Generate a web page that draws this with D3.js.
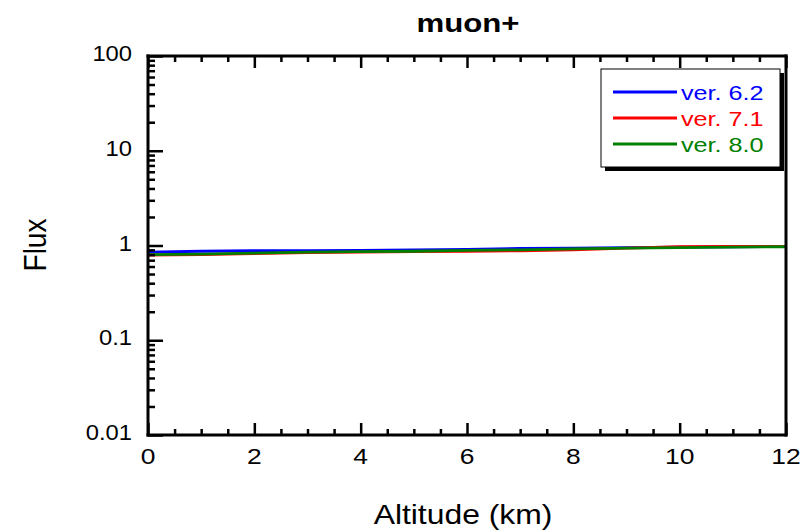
<!DOCTYPE html>
<html>
<head>
<meta charset="utf-8">
<script src="https://cdn.jsdelivr.net/npm/d3@7"></script>
<style>
  html, body { margin: 0; padding: 0; background: #fff; }
  svg text { font-family: "Liberation Sans", Arial, sans-serif; }
</style>
</head>
<body>
<svg id="chart" width="809" height="530"></svg>
<script>
// Altitude grid (km) and flux per simulation version
const altitude = [0, 1, 2, 3, 4, 5, 6, 7, 8, 9, 10, 11, 12];
const fluxV62 = [0.85, 0.87, 0.88, 0.88, 0.89, 0.90, 0.91, 0.93, 0.94, 0.95, 0.96, 0.97, 0.98];
const fluxV71 = [0.79, 0.80, 0.82, 0.84, 0.85, 0.86, 0.87, 0.88, 0.90, 0.94, 0.97, 0.98, 0.98];
const fluxV80 = [0.80, 0.81, 0.83, 0.85, 0.86, 0.87, 0.89, 0.90, 0.92, 0.94, 0.95, 0.96, 0.97];
const seriesNames = ["ver. 6.2", "ver. 7.1", "ver. 8.0"];
const seriesColors = ["#0000ff", "#ff0000", "#008000"];
const xTickValues = [0, 2, 4, 6, 8, 10, 12];
const yTickValues = [0.01, 0.1, 1, 10, 100];
const yTickLabels = ["0.01", "0.1", "1", "10", "100"];

const series = [fluxV62, fluxV71, fluxV80].map((vals, i) => ({
  name: seriesNames[i],
  color: seriesColors[i],
  points: altitude.map((a, j) => ({ x: a, y: vals[j] }))
}));

const svg = d3.select("#chart");
const plotL = 148, plotR = 786, plotT = 56, plotB = 435;
const stretch = 1.2; // horizontal widening of the lettering

const x = d3.scaleLinear().domain([0, 12]).range([plotL, plotR]);
const y = d3.scaleLog().domain([0.01, 100]).range([plotB, plotT]);

// Data lines, clipped to the plot area
svg.append("clipPath").attr("id", "plotclip")
  .append("rect").attr("x", plotL).attr("y", plotT)
  .attr("width", plotR - plotL).attr("height", plotB - plotT);

const line = d3.line().x(d => x(d.x)).y(d => y(d.y));
svg.append("g").attr("clip-path", "url(#plotclip)")
  .selectAll("path").data(series).join("path")
  .attr("d", d => line(d.points))
  .attr("fill", "none")
  .attr("stroke", d => d.color)
  .attr("stroke-width", 2.8);

// Minor tick positions
const xMinor = d3.range(0, 12.001, 0.5).filter(v => Math.abs(v % 2) > 1e-9);
const yMinor = [];
[0.01, 0.1, 1, 10].forEach(dec => { for (let k = 2; k <= 9; k++) yMinor.push(dec * k); });

const axisStroke = 3;
const tickStroke = 2.5;

// Bottom and top axes: inward ticks only
const gBottom = svg.append("g").attr("transform", `translate(0,${plotB})`);
gBottom.call(d3.axisBottom(x).tickValues(xTickValues).tickSize(-12).tickFormat(""));
gBottom.append("g").call(d3.axisBottom(x).tickValues(xMinor).tickSize(-6).tickFormat(""));

const gTop = svg.append("g").attr("transform", `translate(0,${plotT})`);
gTop.call(d3.axisTop(x).tickValues(xTickValues).tickSize(-12).tickFormat(""));
gTop.append("g").call(d3.axisTop(x).tickValues(xMinor).tickSize(-6).tickFormat(""));

// Left axis: inward ticks
const gLeft = svg.append("g").attr("transform", `translate(${plotL},0)`);
gLeft.call(d3.axisLeft(y).tickValues(yTickValues).tickSize(-15).tickFormat(""));
gLeft.append("g").call(d3.axisLeft(y).tickValues(yMinor).tickSize(-7).tickFormat(""));

svg.selectAll(".domain").remove();
svg.selectAll(".tick line").attr("stroke", "#000").attr("stroke-width", tickStroke);

// Tick labels
svg.append("g").selectAll("text").data(xTickValues).join("text")
  .attr("transform", d => `translate(${x(d)},464) scale(${stretch},1)`)
  .attr("text-anchor", "middle").attr("font-size", 22).text(d => d);
svg.append("g").selectAll("text").data(yTickValues).join("text")
  .attr("transform", d => `translate(132,${y(d) + 5}) scale(1.08,1)`)
  .attr("text-anchor", "end").attr("font-size", 22).text((d, i) => yTickLabels[i]);

// Frame: bottom, top, left and right edges
const frame = [
  [plotL - 1.5, plotB, plotR + 1.5, plotB],
  [plotL - 1.5, plotT, plotR + 1.5, plotT],
  [plotL, plotT - 1.5, plotL, plotB + 1.5],
  [plotR, plotT - 1.5, plotR, plotB + 1.5]
];
svg.append("g").selectAll("line").data(frame).join("line")
  .attr("x1", d => d[0]).attr("y1", d => d[1]).attr("x2", d => d[2]).attr("y2", d => d[3])
  .attr("stroke", "#000").attr("stroke-width", axisStroke);

// Title and axis titles
svg.append("text").attr("transform", `translate(468,32) scale(${stretch},1)`)
  .attr("text-anchor", "middle").attr("font-size", 26).attr("font-weight", "bold").text("muon+");
svg.append("text").attr("transform", `translate(463,524) scale(1.18,1)`)
  .attr("text-anchor", "middle").attr("font-size", 27).text("Altitude (km)");
svg.append("text").attr("transform", "translate(46,245) scale(1.1,1) rotate(-90)")
  .attr("text-anchor", "middle").attr("font-size", 28).text("Flux");

// Legend with drop shadow
const lg = { x: 601, y: 69, w: 179, h: 98 };
svg.append("rect").attr("x", lg.x + 4).attr("y", lg.y + 4).attr("width", lg.w).attr("height", lg.h)
  .attr("fill", "#000");
svg.append("rect").attr("x", lg.x).attr("y", lg.y).attr("width", lg.w).attr("height", lg.h)
  .attr("fill", "#fff").attr("stroke", "#000").attr("stroke-width", 1);
const rows = svg.append("g").selectAll("g").data(series).join("g")
  .attr("transform", (d, i) => `translate(0,${92 + i * 26})`);
rows.append("line").attr("x1", 613).attr("x2", 677).attr("y1", 0).attr("y2", 0)
  .attr("stroke", d => d.color).attr("stroke-width", 2.8);
rows.append("text").attr("transform", `translate(681,8) scale(1.2,1)`).attr("font-size", 21)
  .attr("fill", d => d.color).text(d => d.name);
</script>
</body>
</html>
